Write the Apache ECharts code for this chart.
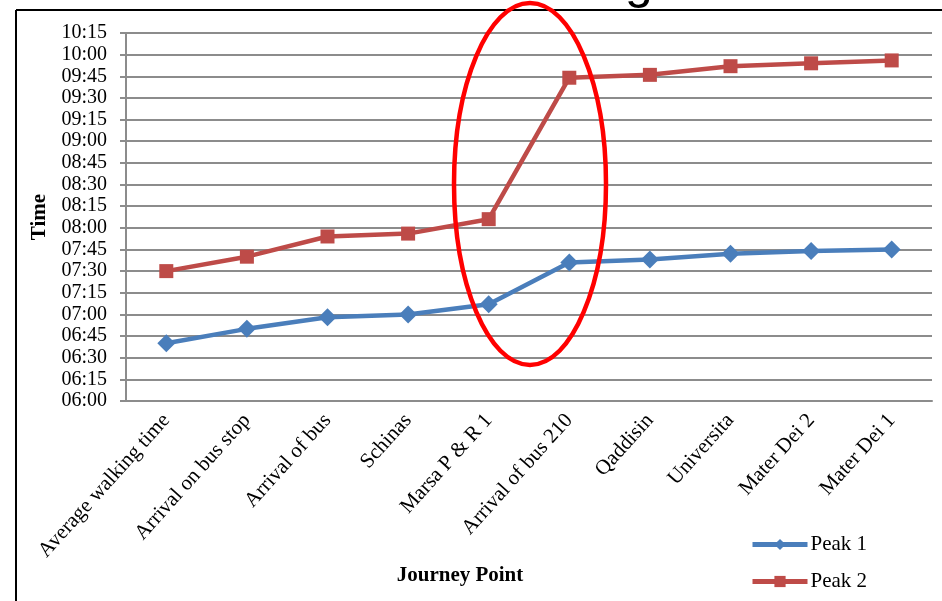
<!DOCTYPE html>
<html>
<head>
<meta charset="utf-8">
<style type="text/css">
	html,body{margin:0;padding:0;background:#fff;}
	#main{width:942px;height:601px;}
</style>
</head>
<body>
	<div id="main"></div>
<script src="https://cdn.jsdelivr.net/npm/echarts@6/dist/echarts.min.js"></script>
<script type="text/javascript">
// journey points along the x axis
var categories = ['Average walking time', 'Arrival on bus stop', 'Arrival of bus', 'Schinas', 'Marsa P & R 1',
	'Arrival of bus 210', 'Qaddisin', 'Universita', 'Mater Dei 2', 'Mater Dei 1'];
// times as "hh:mm"
var peak1 = ['06:40', '06:50', '06:58', '07:00', '07:07', '07:36', '07:38', '07:42', '07:44', '07:45'];
var peak2 = ['07:30', '07:40', '07:54', '07:56', '08:06', '09:44', '09:46', '09:52', '09:54', '09:56'];
// y axis range, minutes from midnight
var yMin = '06:00', yMax = '10:15', yStep = 15;

function toMin(s){
	var p = s.split(':');
	return (+p[0]) * 60 + (+p[1]);
}
function toHHMM(v){
	var h = Math.floor(v / 60), m = v % 60;
	return (h < 10 ? '0' : '') + h + ':' + (m < 10 ? '0' : '') + m;
}

var serif = '"Liberation Serif", "DejaVu Serif", serif';
var chart = echarts.init(document.getElementById('main'));

var option = {
	backgroundColor: '#fff',
	animation: false,
	grid: {left: 126, right: 10, top: 33, bottom: 200, containLabel: false},
	legend: {
		orient: 'vertical',
		left: 745, top: 529,
		itemWidth: 55, itemHeight: 14, itemGap: 16,
		lineStyle: {width: 5},
		textStyle: {fontFamily: serif, fontSize: 21, color: '#000', padding: [0, 0, 0, -2]},
		data: ['Peak 1', 'Peak 2']
	},
	xAxis: {
		type: 'category',
		data: categories,
		boundaryGap: true,
		name: 'Journey Point',
		nameLocation: 'middle',
		nameGap: 164,
		nameMoveOverlap: false,
		nameTextStyle: {fontFamily: serif, fontSize: 21, fontWeight: 'bold', color: '#000', padding: [0, 138, 0, 0]},
		axisLine: {lineStyle: {color: '#8c8c8c', width: 2}},
		axisTick: {show: false},
		axisLabel: {rotate: 48, fontFamily: serif, fontSize: 21, color: '#000', margin: 16, interval: 0}
	},
	yAxis: {
		type: 'value',
		min: toMin(yMin),
		max: toMin(yMax),
		interval: yStep,
		name: 'Time',
		nameLocation: 'middle',
		nameGap: 74,
		nameRotate: 90,
		nameTextStyle: {fontFamily: serif, fontSize: 21, fontWeight: 'bold', color: '#000'},
		axisLine: {show: true, lineStyle: {color: '#8c8c8c', width: 2}},
		axisTick: {show: true, length: 6, lineStyle: {color: '#8c8c8c', width: 2}},
		splitLine: {lineStyle: {color: '#8c8c8c', width: 2}},
		axisLabel: {fontFamily: serif, fontSize: 20, color: '#000', margin: 19, formatter: function(v){ return toHHMM(v); }}
	},
	series: [
		{
			name: 'Peak 1',
			type: 'line',
			data: peak1.map(toMin),
			symbol: 'diamond',
			symbolSize: 18,
			color: '#4a7ebb',
			lineStyle: {width: 4.5, color: '#4a7ebb'},
			itemStyle: {color: '#4a7ebb'}
		},
		{
			name: 'Peak 2',
			type: 'line',
			data: peak2.map(toMin),
			symbol: 'rect',
			symbolSize: 14,
			color: '#be4b48',
			lineStyle: {width: 4.5, color: '#be4b48'},
			itemStyle: {color: '#be4b48'}
		}
	],
	graphic: [
		// outer frame of the chart
		{type: 'line', shape: {x1: 16, y1: 10, x2: 942, y2: 10}, style: {stroke: '#000', lineWidth: 2}},
		{type: 'line', shape: {x1: 16, y1: 10, x2: 16, y2: 601}, style: {stroke: '#000', lineWidth: 2}},
		// cut-off title fragment at top
		{type: 'text', x: 625, y: -41, style: {text: 'g', font: '50px "Liberation Sans", Arial, sans-serif', fill: '#000'}},
		// red ellipse annotation
		{type: 'ellipse', shape: {cx: 530, cy: 184, rx: 76, ry: 181}, style: {fill: 'none', stroke: '#ff0000', lineWidth: 4.5}, z: 100}
	]
};

chart.setOption(option);
</script>
</body>
</html>
